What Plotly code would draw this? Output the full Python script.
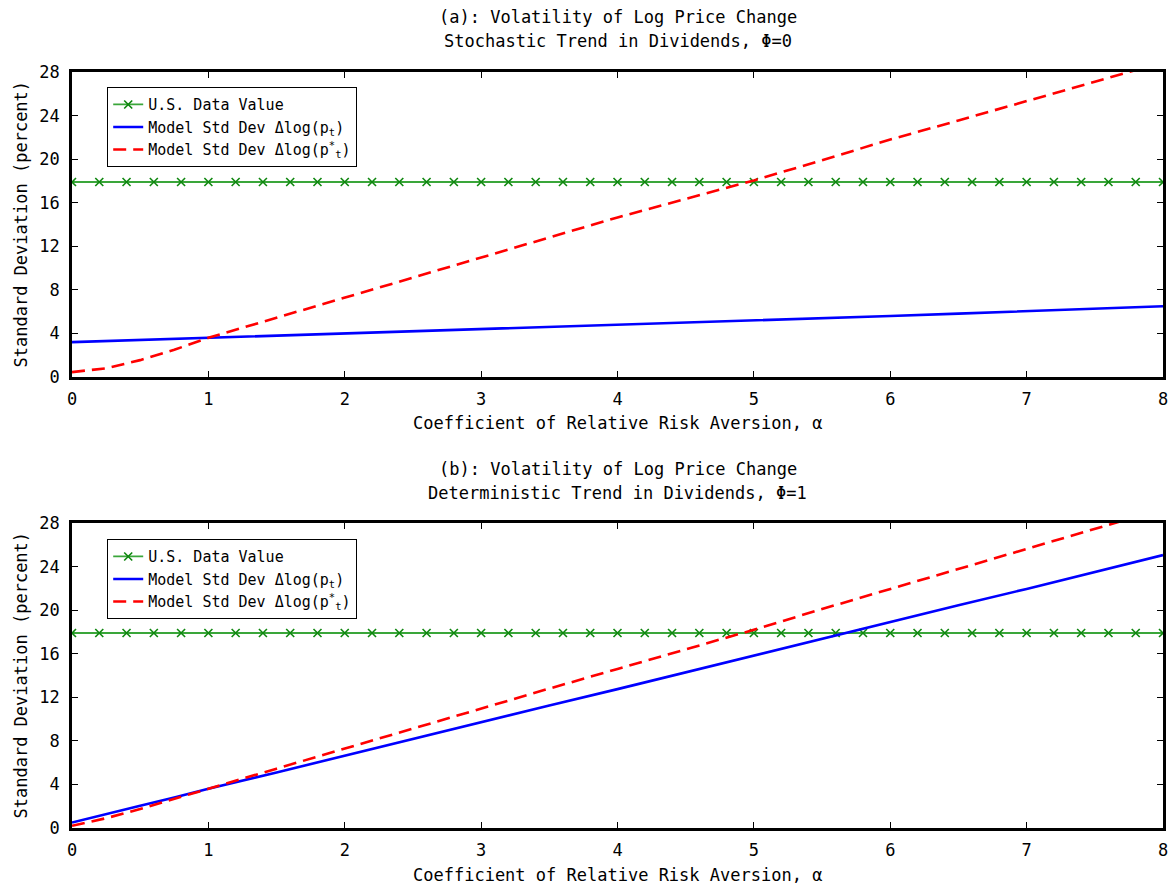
import plotly.graph_objects as go

# ---- data ----
alpha_data = [round(0.2 * i, 1) for i in range(41)]
us_data_value = 17.9

alpha_curve = [0, 0.25, 0.5, 0.75, 1, 1.5, 2, 2.5, 3, 3.5, 4, 4.5, 5, 5.5, 6, 6.5, 7, 7.5, 8]

# panel (a): stochastic trend, phi = 0
a_model_p = [3.2, 3.3, 3.4, 3.5, 3.6, 3.78, 3.95, 4.15, 4.35, 4.55, 4.75, 4.95, 5.15, 5.37, 5.6, 5.82, 6.05, 6.27, 6.5]
a_model_pstar = [0.45, 0.8, 1.55, 2.5, 3.6, 5.45, 7.25, 9.1, 10.95, 12.8, 14.65, 16.35, 18.05, 19.9, 21.8, 23.55, 25.3, 27.1, 28.9]

# panel (b): deterministic trend, phi = 1
b_model_p = [0.5, 1.3, 2.05, 2.8, 3.6, 5.1, 6.65, 8.2, 9.7, 11.25, 12.75, 14.3, 15.85, 17.35, 18.9, 20.45, 21.95, 23.5, 25.05]
b_model_pstar = [0.2, 0.9, 1.75, 2.65, 3.6, 5.45, 7.3, 9.15, 11.0, 12.8, 14.6, 16.4, 18.2, 20.1, 21.95, 23.8, 25.65, 27.45, 29.3]

x_ticks = [0, 1, 2, 3, 4, 5, 6, 7, 8]
y_ticks = [0, 4, 8, 12, 16, 20, 24, 28]

titles = [
    ("(a): Volatility of Log Price Change", "Stochastic Trend in Dividends, Φ=0"),
    ("(b): Volatility of Log Price Change", "Deterministic Trend in Dividends, Φ=1"),
]
x_title = "Coefficient of Relative Risk Aversion, α"
y_title = "Standard Deviation (percent)"
leg_names = ["U.S. Data Value",
             "Model Std Dev Δlog(p<sub>t</sub>)",
             "Model Std Dev Δlog(p<sup>*</sup><sub>t</sub>)"]

FONT = "DejaVu Sans Mono"
GREEN_LINE = "#3aa63a"
GREEN_MARK = "#0f870f"

W, H = 1172, 890
ML, MR, MT, MB = 72, 9, 72, 62
PH = H - MT - MB  # plot height in px


def fy(py):
    """pixel row -> paper fraction"""
    return (H - MB - py) / PH


fig = go.Figure()

panels = [(a_model_p, a_model_pstar), (b_model_p, b_model_pstar)]
for i, (mp, mps) in enumerate(panels):
    xa = "x" if i == 0 else "x2"
    ya = "y" if i == 0 else "y2"
    lg = "legend" if i == 0 else "legend2"
    fig.add_trace(go.Scatter(
        x=alpha_data, y=[us_data_value] * len(alpha_data), mode="lines+markers",
        name=leg_names[0], xaxis=xa, yaxis=ya, legend=lg,
        line=dict(color=GREEN_LINE, width=1.8),
        marker=dict(symbol="x-thin", size=8, line=dict(color=GREEN_MARK, width=1.6))))
    fig.add_trace(go.Scatter(
        x=alpha_curve, y=mp, mode="lines", name=leg_names[1], xaxis=xa, yaxis=ya, legend=lg,
        line=dict(color="#0000ff", width=2.6)))
    fig.add_trace(go.Scatter(
        x=alpha_curve, y=mps, mode="lines", name=leg_names[2], xaxis=xa, yaxis=ya, legend=lg,
        line=dict(color="#ff0000", width=2.6, dash="13px,7px")))

axis_common = dict(
    showline=True, linecolor="black", linewidth=2.6, mirror="allticks",
    ticks="inside", ticklen=6, tickwidth=1.4, tickcolor="black",
    showgrid=False, zeroline=False, automargin=False,
    tickfont=dict(family=FONT, size=17, color="black"),
)

top_a, bot_a = 72, 377
top_b, bot_b = 523, 828

fig.update_layout(
    width=W, height=H,
    margin=dict(l=ML, r=MR, t=MT, b=MB),
    paper_bgcolor="white", plot_bgcolor="white",
    showlegend=True,
    xaxis=dict(domain=[0, 1], range=[0, 8], tickvals=x_ticks, anchor="y",
               ticklabelstandoff=5, **axis_common),
    yaxis=dict(domain=[fy(bot_a), fy(top_a)], range=[0, 28], tickvals=y_ticks, anchor="x",
               ticklabelstandoff=6, **axis_common),
    xaxis2=dict(domain=[0, 1], range=[0, 8], tickvals=x_ticks, anchor="y2",
                ticklabelstandoff=5, **axis_common),
    yaxis2=dict(domain=[fy(bot_b), fy(top_b)], range=[0, 28], tickvals=y_ticks, anchor="x2",
                ticklabelstandoff=6, **axis_common),
    legend=dict(x=(107 - ML) / (W - ML - MR), y=fy(87), xanchor="left", yanchor="top",
                xref="paper", yref="paper",
                bgcolor="white", bordercolor="black", borderwidth=1.2,
                font=dict(family=FONT, size=15, color="black"), tracegroupgap=0,
                itemwidth=30),
    legend2=dict(x=(107 - ML) / (W - ML - MR), y=fy(539), xanchor="left", yanchor="top",
                 xref="paper", yref="paper",
                 bgcolor="white", bordercolor="black", borderwidth=1.2,
                 font=dict(family=FONT, size=15, color="black"), tracegroupgap=0,
                 itemwidth=30),
)

# panel titles
title_rows = [(17, 41), (469, 493)]
for (t1, t2), (r1, r2) in zip(titles, title_rows):
    for txt, py in ((t1, r1), (t2, r2)):
        fig.add_annotation(text=txt, x=0.5, y=fy(py), xref="paper", yref="paper",
                           xanchor="center", yanchor="middle", showarrow=False,
                           font=dict(family=FONT, size=17, color="black"))

# axis titles
for xrow, (top, bot) in zip((423, 875), ((top_a, bot_a), (top_b, bot_b))):
    fig.add_annotation(text=x_title, x=0.5, y=fy(xrow), xref="paper", yref="paper",
                       xanchor="center", yanchor="middle", showarrow=False,
                       font=dict(family=FONT, size=17, color="black"))
    fig.add_annotation(text=y_title, x=(20 - ML) / (W - ML - MR), y=fy((top + bot) / 2),
                       xref="paper", yref="paper", textangle=-90,
                       xanchor="center", yanchor="middle", showarrow=False,
                       font=dict(family=FONT, size=17, color="black"))

fig.write_html("out.html", config={"displayModeBar": False},
               post_script="document.body.style.margin='0';document.body.style.overflow='hidden';")
